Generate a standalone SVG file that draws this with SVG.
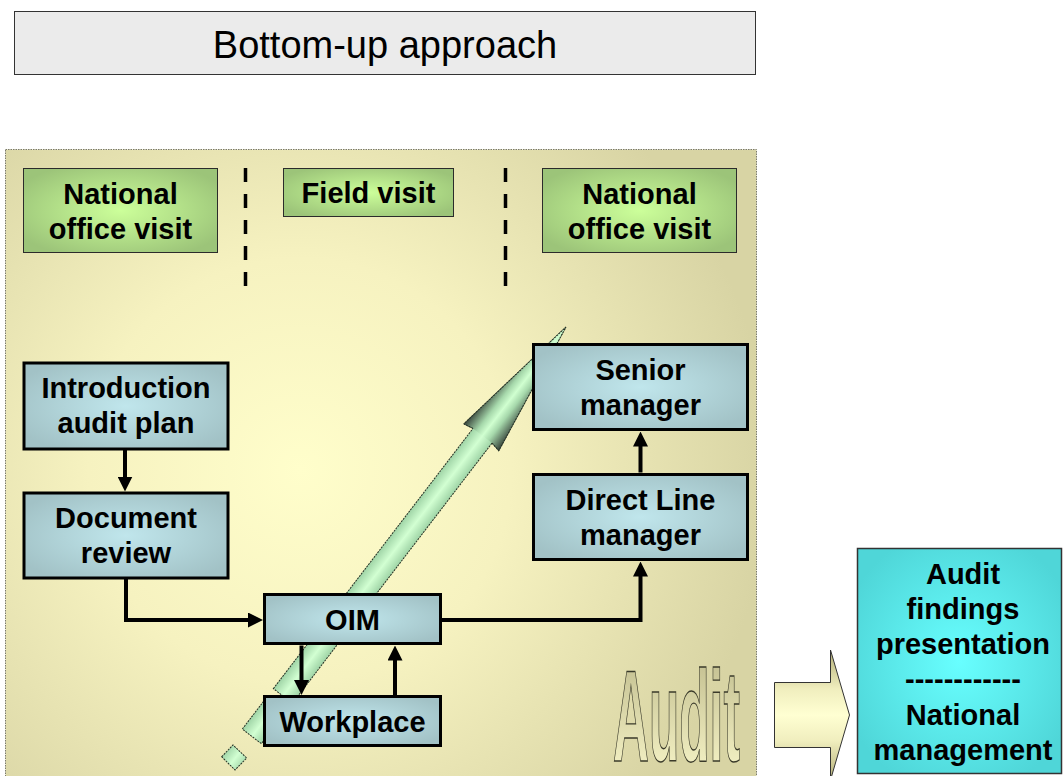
<svg xmlns="http://www.w3.org/2000/svg" width="1064" height="776" viewBox="0 0 1064 776">
<defs>
<style>
text{font-family:"Liberation Sans",Arial,Helvetica,sans-serif;fill:#000;text-anchor:middle}
.b{font-weight:bold;font-size:29px}
.green{fill:url(#gGreen);stroke:#2b2b2b;stroke-width:1}
.blue{fill:url(#gBlue);stroke:#000;stroke-width:3}
.conn{fill:none;stroke:#000;stroke-width:4;marker-end:url(#ah)}
.dash{stroke:#000;stroke-width:3.5;stroke-dasharray:14 12}
</style>
<radialGradient id="gPanel" gradientUnits="userSpaceOnUse" cx="300" cy="470" r="470">
<stop offset="0" stop-color="#fffecb"/>
<stop offset="0.45" stop-color="#f6f2c0"/>
<stop offset="1" stop-color="#d8d4a4"/>
</radialGradient>
<radialGradient id="gGreen" cx="0.5" cy="0.5" r="0.6">
<stop offset="0" stop-color="#ccff9a"/>
<stop offset="1" stop-color="#9cc479"/>
</radialGradient>
<radialGradient id="gBlue" cx="0.5" cy="0.5" r="0.6">
<stop offset="0" stop-color="#c0e6ec"/>
<stop offset="1" stop-color="#a2c2c6"/>
</radialGradient>
<radialGradient id="gCyan" cx="0.5" cy="0.5" r="0.6">
<stop offset="0" stop-color="#68ffff"/>
<stop offset="1" stop-color="#4fd6d8"/>
</radialGradient>
<linearGradient id="gBlock" gradientUnits="userSpaceOnUse" x1="0" y1="650" x2="0" y2="780">
<stop offset="0" stop-color="#b3ae78"/>
<stop offset="0.3" stop-color="#f0eebe"/>
<stop offset="0.5" stop-color="#ffffd2"/>
<stop offset="0.7" stop-color="#f0eebe"/>
<stop offset="1" stop-color="#b3ae78"/>
</linearGradient>
<linearGradient id="gAudit" x1="0" y1="0" x2="0" y2="1">
<stop offset="0" stop-color="#bdb98a"/>
<stop offset="1" stop-color="#fbf9cc"/>
</linearGradient>
<linearGradient id="gShaft" gradientUnits="userSpaceOnUse" x1="0" y1="-12" x2="0" y2="12">
<stop offset="0" stop-color="#9fd4a6"/>
<stop offset="0.5" stop-color="#d2ffd2"/>
<stop offset="1" stop-color="#9fd4a6"/>
</linearGradient>
<linearGradient id="gHead" gradientUnits="userSpaceOnUse" x1="0" y1="-22" x2="0" y2="22">
<stop offset="0" stop-color="#37433a"/>
<stop offset="0.33" stop-color="#a6d8ab"/>
<stop offset="0.5" stop-color="#d0ffd0"/>
<stop offset="0.67" stop-color="#a6d8ab"/>
<stop offset="1" stop-color="#37433a"/>
</linearGradient>
<marker id="ah" viewBox="0 0 15 15" refX="5" refY="7.5" markerWidth="15" markerHeight="15" markerUnits="userSpaceOnUse" orient="auto">
<path d="M0 0 L15 7.5 L0 15 Z" fill="#000"/>
</marker>
</defs>

<rect width="1064" height="776" fill="#fff"/>

<g id="title">
<rect x="14.5" y="11.5" width="741" height="63" fill="#ebebeb" stroke="#333" stroke-width="1"/>
<text x="385" y="58" font-size="38">Bottom-up approach</text>
</g>

<g id="panel">
<rect x="5.5" y="149.5" width="751" height="640" fill="url(#gPanel)" stroke="#7a7a6a" stroke-width="1" stroke-dasharray="1.5 1"/>
<line class="dash" x1="245.5" y1="168" x2="245.5" y2="288"/>
<line class="dash" x1="505.5" y1="168" x2="505.5" y2="288"/>
</g>

<g id="phase-national-1">
<rect class="green" x="23.5" y="168.5" width="194" height="84"/>
<text class="b" x="120.5" y="204">National</text>
<text class="b" x="120.5" y="239">office visit</text>
</g>
<g id="phase-field">
<rect class="green" x="283.5" y="168.5" width="170" height="48"/>
<text class="b" x="368.5" y="203">Field visit</text>
</g>
<g id="phase-national-2">
<rect class="green" x="542.5" y="168.5" width="194" height="84"/>
<text class="b" x="639.5" y="204">National</text>
<text class="b" x="639.5" y="239">office visit</text>
</g>

<g id="bottom-up-arrow" transform="translate(236,757) rotate(-52.5)" stroke="#243024" stroke-width="1" stroke-dasharray="2 1">
<polygon points="-8.5,-11.5 7.7,-9.7 5.7,9.1 -10.9,7.1" fill="url(#gShaft)"/>
<rect x="26" y="-12" width="39" height="24" fill="url(#gShaft)"/>
<polygon points="77,-12 405,-12 403,-22 542,0 403,22 405,12 77,12" fill="url(#gShaft)"/>
<polygon points="405,-12 403,-22 542,0 403,22 405,12" fill="url(#gHead)" stroke="none"/>
<polyline points="405,-12 403,-22 542,0 403,22 405,12" fill="none"/>
</g>

<g id="audit-word">
<text transform="translate(613,761) scale(1,2.6)" x="0" y="0" font-size="49.7" font-weight="bold" vector-effect="non-scaling-stroke" style="text-anchor:start;fill:url(#gAudit);stroke:#3a3a2a;stroke-width:1.1;vector-effect:non-scaling-stroke">Audit</text>
</g>

<g id="connectors">
<path class="conn" d="M125 449.5 V481.5"/>
<path class="conn" d="M126 578.5 V620 H253"/>
<path class="conn" d="M441.5 620 H640.5 V571.5"/>
<path class="conn" d="M640.5 472.5 V441.5"/>
<path class="conn" d="M301.5 645.5 V685"/>
<path class="conn" d="M395 695 V655.5"/>
</g>

<g id="node-intro">
<rect class="blue" x="24" y="363" width="204" height="86"/>
<text class="b" x="126" y="398">Introduction</text>
<text class="b" x="126" y="433">audit plan</text>
</g>
<g id="node-document">
<rect class="blue" x="24" y="493" width="204" height="85"/>
<text class="b" x="126" y="528">Document</text>
<text class="b" x="126" y="563">review</text>
</g>
<g id="node-oim">
<rect class="blue" x="264.5" y="594.5" width="176" height="49"/>
<text class="b" x="352.5" y="630">OIM</text>
</g>
<g id="node-workplace">
<rect class="blue" x="264.5" y="696.5" width="176" height="49"/>
<text class="b" x="352.5" y="732">Workplace</text>
</g>
<g id="node-senior">
<rect class="blue" x="533.5" y="344.5" width="214" height="85"/>
<text class="b" x="640.5" y="380">Senior</text>
<text class="b" x="640.5" y="415">manager</text>
</g>
<g id="node-direct">
<rect class="blue" x="533.5" y="474.5" width="214" height="85"/>
<text class="b" x="640.5" y="510">Direct Line</text>
<text class="b" x="640.5" y="545">manager</text>
</g>

<g id="block-arrow">
<polygon points="774.5,682.5 830.5,682.5 830.5,650 849.5,715 830.5,780 830.5,747.5 774.5,747.5" fill="url(#gBlock)" stroke="#333" stroke-width="1"/>
</g>

<g id="node-findings">
<rect x="857.5" y="548.5" width="204" height="225" fill="url(#gCyan)" stroke="#333" stroke-width="1.5"/>
<text class="b" x="963" y="584">Audit</text>
<text class="b" x="963" y="619">findings</text>
<text class="b" x="963" y="654">presentation</text>
<text class="b" x="963" y="689">------------</text>
<text class="b" x="963" y="725">National</text>
<text class="b" x="963" y="760">management</text>
</g>
</svg>
